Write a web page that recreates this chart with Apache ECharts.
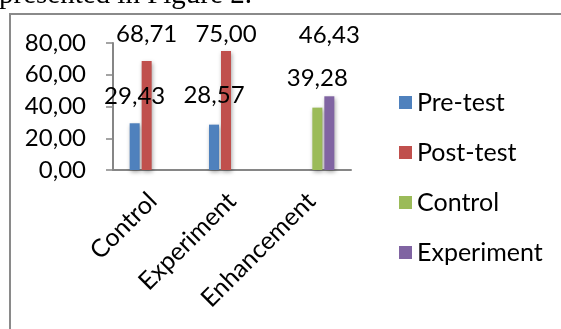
<!DOCTYPE html>
<html>
<head>
<meta charset="utf-8">
<script src="https://cdn.jsdelivr.net/npm/echarts@6/dist/echarts.min.js"></script>
<style>
html,body{margin:0;padding:0;background:#fff;}
#chart{width:561px;height:329px;}
</style>
</head>
<body>
<div id="chart"></div>
<script>
// ---- data ----
const categories = ['Control', 'Experiment', 'Enhancement'];
const seriesNames = ['Pre-test', 'Post-test', 'Control', 'Experiment'];
const preTest = [29.43, 28.57, null];
const postTest = [68.71, 75.00, null];
const controlEnh = [null, null, 39.28];
const experimentEnh = [null, null, 46.43];
const yTicks = [0, 20, 40, 60, 80];
const caption = 'presented in Figure 2.';

// ---- styles ----
const colors = ['#4F81BD', '#C0504D', '#9BBB59', '#8064A2'];
const labelOffsets = [
  [[0, -10], [0, -12], [0, 0]],
  [[0, -10], [0, 0], [0, 0]],
  [[0, 0], [0, 0], [0, -12]],
  [[0, 0], [0, 0], [0, -44]]
];
const FONT = 'Lato';
const FS_NUM = 24;
const FS_TXT = 25;
const fmt = v => Number(v).toFixed(2).replace('.', ',');

const allValues = [preTest, postTest, controlEnh, experimentEnh];
const series = allValues.map((vals, si) => ({
  name: seriesNames[si],
  type: 'bar',
  barWidth: 10,
  barGap: '20%',
  itemStyle: {
    color: colors[si],
    shadowColor: 'rgba(0,0,0,0.35)',
    shadowBlur: 4,
    shadowOffsetX: 1,
    shadowOffsetY: 2
  },
  label: {
    show: true,
    position: 'top',
    distance: 5,
    fontFamily: FONT,
    fontSize: FS_NUM,
    color: '#000',
    formatter: p => fmt(p.value)
  },
  data: vals.map((v, ci) => v == null ? null : { value: v, label: { offset: labelOffsets[si][ci] } })
}));

const chart = echarts.init(document.getElementById('chart'), null, { renderer: 'canvas' });
chart.setOption({
  animation: false,
  backgroundColor: '#fff',
  color: colors,
  grid: { left: 113, right: 210, top: 43, bottom: 159, containLabel: false },
  legend: {
    orient: 'vertical',
    left: 394,
    top: 85,
    itemWidth: 13,
    itemHeight: 13,
    itemGap: 25,
    icon: 'rect',
    textStyle: { fontFamily: FONT, fontSize: FS_TXT, color: '#000', lineHeight: 24 },
    data: seriesNames
  },
  xAxis: {
    type: 'category',
    data: categories,
    axisLine: { lineStyle: { color: '#868686', width: 2 } },
    axisTick: { show: false },
    axisLabel: {
      rotate: 45,
      margin: 27,
      fontFamily: FONT,
      fontSize: FS_TXT,
      color: '#000',
      interval: 0
    }
  },
  yAxis: {
    type: 'value',
    min: yTicks[0],
    max: yTicks[yTicks.length - 1],
    interval: 20,
    splitLine: { show: false },
    axisLine: { show: true, lineStyle: { color: '#868686', width: 2 } },
    axisTick: { show: true, length: 7, lineStyle: { color: '#868686', width: 1.5 } },
    axisLabel: {
      margin: 27,
      fontFamily: FONT,
      fontSize: FS_NUM,
      color: '#000',
      formatter: v => fmt(v)
    }
  },
  graphic: [
    {
      type: 'text',
      left: -1,
      top: -19,
      style: {
        text: caption,
        font: '29px "Liberation Serif"',
        fill: '#000'
      }
    },
    {
      type: 'polyline',
      shape: { points: [[10, 329], [10, 14], [561, 14]] },
      style: { stroke: '#8a8a8a', lineWidth: 2, fill: null }
    }
  ],
  series: series
});
</script>
</body>
</html>
